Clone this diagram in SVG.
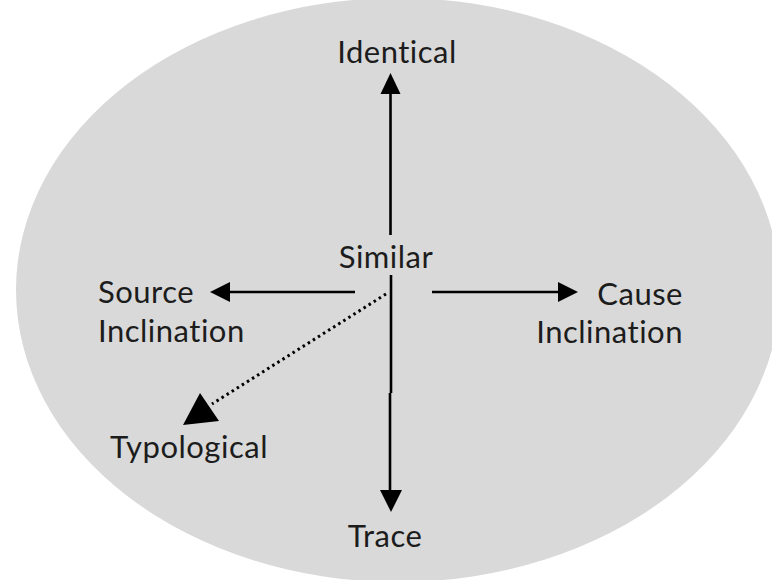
<svg xmlns="http://www.w3.org/2000/svg" width="772" height="580" viewBox="0 0 772 580">
<style>
  .lbl { font-family: Lato, "Open Sans", "Liberation Sans", sans-serif; font-size: 31px; letter-spacing: 0.5px; fill: #1c1c1c; font-variant-ligatures: none; font-feature-settings: "liga" 0, "clig" 0; }
  .ln { stroke: #000; stroke-width: 2.6; fill: none; }
  .dot { stroke: #000; stroke-width: 3; fill: none; stroke-dasharray: 2.5 3.5; }
</style>
<rect width="772" height="580" fill="#fff"/>
<ellipse cx="398" cy="290" rx="382" ry="292" fill="#d9d9d9"/>
<g id="connectors">
  <line class="ln" x1="390.5" y1="235" x2="390.5" y2="94"/>
  <path d="M380.5,94 L400.5,94 L390.5,73 Z" fill="#000"/>
  <path class="ln" d="M391,275 L391,393 M390,393 L390,490"/>
  <path d="M380,490 L402,490 L391,512 Z" fill="#000"/>
  <line class="ln" x1="355" y1="292" x2="230" y2="292"/>
  <path d="M230,282 L230,302 L210,292 Z" fill="#000"/>
  <line class="ln" x1="432" y1="292" x2="558" y2="292"/>
  <path d="M558,282 L558,302 L578,292 Z" fill="#000"/>
  <line class="dot" x1="386" y1="294" x2="212" y2="404"/>
  <path d="M200,393 L219,421 L183,425 Z" fill="#000"/>
</g>
<g id="similar"><text class="lbl" x="386" y="268" text-anchor="middle">Similar</text></g>
<g id="identical"><text class="lbl" x="397" y="63" text-anchor="middle">Identical</text></g>
<g id="source"><text class="lbl" x="98" y="303">Source</text><text class="lbl" x="98" y="342">Inclination</text></g>
<g id="cause"><text class="lbl" x="683" y="305" text-anchor="end">Cause</text><text class="lbl" x="683" y="343" text-anchor="end">Inclination</text></g>
<g id="typological"><text class="lbl" x="110" y="458">Typological</text></g>
<g id="trace"><text class="lbl" x="385" y="547" text-anchor="middle">Trace</text></g>
</svg>
